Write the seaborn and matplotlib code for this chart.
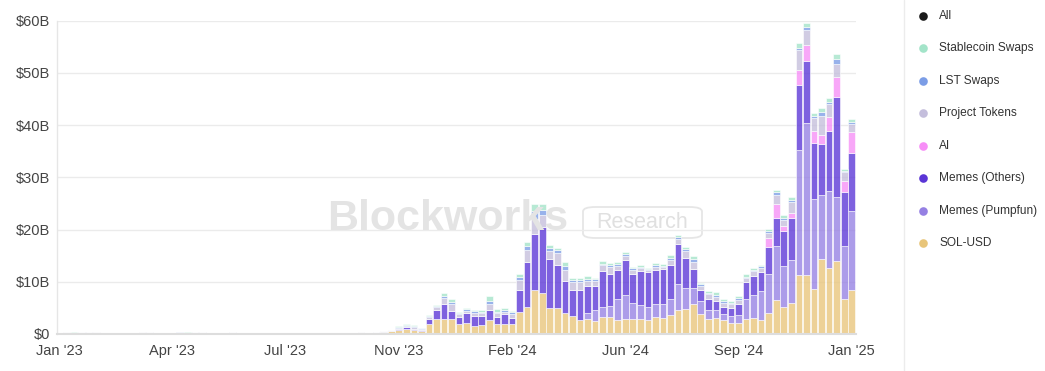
import matplotlib
matplotlib.use("Agg")
import matplotlib.pyplot as plt
import pandas as pd
import seaborn as sns
from matplotlib.lines import Line2D
from matplotlib.patches import FancyBboxPatch

# ---------------- data (weekly, Jan 2023 -> Dec 2024), $B ----------------
weeks = list(range(106))

sol_usd = [
    0, 0, 0, 0, 0, 0, 0, 0, 0, 0,
    0, 0.15, 0, 0, 0, 0, 0, 0, 0, 0,
    0, 0, 0, 0, 0, 0, 0, 0, 0.15, 0,
    0, 0, 0, 0, 0, 0, 0, 0, 0, 0,
    0, 0, 0, 0.3, 0.5, 0.8, 0.95, 0.7, 0.55, 1.9,
    2.8, 2.9, 2.8, 1.9, 2.2, 1.6, 1.7, 2.6, 2.0, 1.9,
    1.9, 4.3, 5.25, 8.45, 7.9, 4.9, 4.9, 4.1, 3.5, 2.7,
    2.9, 2.4, 3.2, 3.3, 2.7, 2.9, 2.9, 2.8, 2.7, 3.3,
    3.1, 3.65, 4.6, 4.8, 5.75, 3.85, 2.8, 3.1, 2.6, 2.2,
    2.2, 2.9, 3.1, 2.7, 4.1, 6.5, 5.25, 6.0, 11.3, 11.3,
    8.6, 14.4, 12.7, 13.9, 6.7, 8.4,
]

memes_pumpfun = [
    0, 0, 0, 0, 0, 0, 0, 0, 0, 0,
    0, 0, 0, 0, 0, 0, 0, 0, 0, 0,
    0, 0, 0, 0, 0, 0, 0, 0, 0, 0,
    0, 0, 0, 0, 0, 0, 0, 0, 0, 0,
    0, 0, 0, 0, 0, 0, 0, 0, 0, 0,
    0, 0, 0, 0, 0, 0, 0, 0, 0, 0,
    0, 0, 0, 0, 0, 0, 0, 0, 0, 0,
    1.2, 2.2, 2.05, 2.05, 4.0, 4.6, 3.1, 2.7, 2.4, 2.4,
    2.6, 3.1, 5.0, 4.1, 3.1, 2.5, 1.8, 1.5, 1.3, 1.25,
    1.5, 3.85, 4.35, 5.6, 7.4, 10.4, 7.8, 8.2, 24.0, 29.2,
    17.3, 12.3, 14.7, 12.3, 10.2, 15.1,
]

memes_others = [
    0, 0.05, 0.2, 0.3, 0.3, 0, 0, 0, 0, 0,
    0, 0, 0.3, 0, 0, 0, 0, 0, 0.3, 0.3,
    0, 0, 0, 0.3, 0, 0, 0, 0, 0, 0,
    0, 0, 0, 0, 0, 0, 0, 0, 0, 0,
    0, 0, 0.3, 0.1, 0.1, 0.2, 0.3, 0.35, 0.25, 0.9,
    1.8, 2.9, 1.7, 1.4, 1.8, 1.9, 1.8, 2.0, 1.35, 1.85,
    1.2, 4.1, 8.6, 10.7, 12.5, 9.5, 8.3, 6.1, 4.9, 5.75,
    5.1, 4.6, 6.85, 6.1, 5.6, 6.7, 5.5, 6.5, 6.7, 6.5,
    6.8, 6.4, 7.7, 5.75, 3.6, 2.0, 2.1, 1.8, 1.35, 1.55,
    2.05, 3.15, 3.65, 3.5, 5.25, 5.4, 6.6, 8.0, 12.35, 11.7,
    10.75, 9.6, 11.4, 19.2, 10.25, 11.1,
]

ai = [
    0, 0, 0, 0, 0, 0, 0, 0, 0, 0,
    0, 0, 0, 0, 0, 0, 0, 0, 0, 0,
    0, 0, 0, 0, 0, 0, 0, 0, 0, 0,
    0, 0, 0, 0, 0, 0, 0, 0, 0, 0,
    0, 0, 0, 0, 0, 0, 0, 0, 0, 0,
    0, 0, 0, 0, 0, 0, 0, 0, 0, 0,
    0, 0, 0, 0, 0, 0, 0, 0, 0, 0,
    0, 0, 0, 0, 0, 0, 0, 0, 0, 0,
    0, 0, 0, 0, 0, 0, 0, 0, 0, 0,
    0, 0, 0, 0, 1.7, 2.55, 0.95, 0.95, 2.9, 3.1,
    2.2, 1.9, 2.7, 3.85, 2.1, 4.1,
]

project_tokens = [
    0, 0.25, 0, 0, 0, 0.3, 0, 0.25, 0.25, 0,
    0.25, 0.15, 0, 0, 0, 0.25, 0.15, 0, 0, 0,
    0, 0, 0, 0, 0, 0, 0.25, 0.15, 0.1, 0,
    0, 0, 0, 0, 0, 0, 0, 0, 0, 0,
    0.3, 0, 0, 0.1, 0.1, 0.2, 0.2, 0.3, 0.2, 0.5,
    0.6, 1.1, 1.2, 0.5, 0.5, 0.6, 0.55, 1.2, 0.6, 0.55,
    0.8, 1.9, 2.3, 2.9, 2.4, 1.5, 2.3, 2.0, 1.5, 1.5,
    1.0, 1.0, 1.1, 1.35, 0.8, 0.65, 0.75, 0.6, 0.4, 0.6,
    0.3, 1.1, 0.95, 1.15, 1.4, 0.9, 0.9, 0.75, 0.75, 0.7,
    0.8, 0.85, 1.0, 0.85, 0.95, 1.8, 1.3, 2.1, 3.8, 2.95,
    2.5, 3.5, 2.6, 2.55, 1.75, 1.6,
]

lst_swaps = [
    0, 0, 0, 0, 0, 0, 0, 0, 0, 0,
    0, 0, 0, 0, 0, 0, 0.15, 0, 0, 0,
    0, 0, 0, 0, 0, 0, 0, 0.1, 0, 0.25,
    0, 0, 0, 0, 0, 0, 0, 0, 0, 0,
    0, 0, 0, 0.1, 0.1, 0.1, 0.35, 0.1, 0.15, 0.2,
    0.2, 0.45, 0.45, 0.2, 0.2, 0.25, 0.2, 0.45, 0.3, 0.25,
    0.25, 0.55, 0.75, 1.45, 0.95, 0.6, 0.6, 0.75, 0.4, 0.45,
    0.4, 0.3, 0.3, 0.4, 0.4, 0.4, 0.3, 0.3, 0.25, 0.4,
    0.25, 0.4, 0.4, 0.5, 0.5, 0.3, 0.25, 0.4, 0.35, 0.3,
    0.3, 0.25, 0.25, 0.3, 0.3, 0.45, 0.4, 0.45, 0.5, 0.5,
    0.4, 0.75, 0.4, 0.95, 0.2, 0.3,
]

stablecoin_swaps = [
    0, 0.1, 0.15, 0, 0, 0, 0, 0, 0, 0,
    0, 0, 0, 0, 0, 0, 0, 0.3, 0, 0,
    0, 0, 0, 0, 0, 0, 0, 0, 0, 0,
    0, 0, 0, 0, 0, 0, 0, 0, 0, 0,
    0, 0, 0, 0, 0, 0.2, 0.1, 0.25, 0.05, 0.15,
    0.15, 0.55, 0.55, 0.25, 0.3, 0.3, 0.3, 0.95, 0.5, 0.5,
    0.25, 0.6, 0.8, 1.45, 1.1, 0.6, 0.4, 0.75, 0.5, 0.35,
    0.45, 0.2, 0.5, 0.4, 0.3, 0.4, 0.3, 0.4, 0.2, 0.45,
    0.3, 0.5, 0.4, 0.45, 0.65, 0.3, 0.45, 0.5, 0.35, 0.3,
    0.4, 0.55, 0.3, 0.25, 0.4, 0.5, 0.4, 0.45, 0.8, 0.9,
    0.65, 0.85, 0.7, 0.95, 0.45, 0.65,
]

series_names = ["Stablecoin Swaps", "LST Swaps", "Project Tokens", "AI",
                "Memes (Others)", "Memes (Pumpfun)", "SOL-USD"]
series_values = [stablecoin_swaps, lst_swaps, project_tokens, ai,
                 memes_others, memes_pumpfun, sol_usd]

x_tick_pos = [0, 15, 30, 45, 60, 75, 90, 105]
x_tick_labels = ["Jan '23", "Apr '23", "Jul '23", "Nov '23",
                 "Feb '24", "Jun '24", "Sep '24", "Jan '25"]
y_ticks = [0, 10, 20, 30, 40, 50, 60]
y_tick_labels = ["$0", "$10B", "$20B", "$30B", "$40B", "$50B", "$60B"]

legend_names = ["All"] + series_names
legend_colors = ["#1a1a1a", "#a3e4c9", "#7b9de6", "#c4bedc", "#f78ef7",
                 "#5a35d6", "#9580e3", "#e8c57a"]
palette = dict(zip(legend_names, legend_colors))

# ---------------- long table for seaborn ----------------
rows = []
for name, vals in zip(series_names, series_values):
    for w, v in zip(weeks, vals):
        rows.append((w, name, v))
df = pd.DataFrame(rows, columns=["week", "series", "value"])

sns.set_theme(style="white")
plt.rcParams["font.family"] = ["Liberation Sans", "DejaVu Sans"]

W, H = 1045, 371
fig = plt.figure(figsize=(W / 100, H / 100), dpi=100)
ax = fig.add_axes([57 / W, 37 / H, (856 - 57) / W, (334 - 20.7) / H])

# watermark (behind bars)
fig.text(448 / W, 1 - 219 / H, "Blockworks", fontsize=31, fontweight="bold",
         color="#e4e4e4", ha="center", va="center", zorder=0)
box = FancyBboxPatch((583 / W, 1 - 238 / H), (702 - 583) / W, (238 - 207) / H,
                     boxstyle="round,pad=0,rounding_size=0.012",
                     transform=fig.transFigure, fill=False,
                     edgecolor="#e6e6e6", linewidth=1.3, zorder=0)
fig.add_artist(box)
fig.text(642 / W, 1 - 222 / H, "Research", fontsize=15.5,
         color="#e0e0e0", ha="center", va="center", zorder=0)
ax.set_facecolor("none")

sns.histplot(data=df, x="week", weights="value", hue="series",
             hue_order=series_names, multiple="stack", discrete=True,
             shrink=0.88, palette={k: palette[k] for k in series_names},
             alpha=0.78, edgecolor="white", linewidth=0.4, legend=False, ax=ax)

ax.set_xlim(-0.26, 105.56)
ax.set_ylim(0, 60)
ax.set_xticks(x_tick_pos)
ax.set_xticklabels(x_tick_labels)
ax.set_yticks(y_ticks)
ax.set_yticklabels(y_tick_labels)
ax.set_xlabel("")
ax.set_ylabel("")
ax.tick_params(axis="both", length=0, labelsize=10.5, labelcolor="#444444")
ax.tick_params(axis="x", pad=7)
ax.tick_params(axis="y", pad=5)
ax.yaxis.grid(True, color="#ebebeb", linewidth=1)
ax.xaxis.grid(False)
ax.set_axisbelow(True)
for s in ["top", "right"]:
    ax.spines[s].set_visible(False)
ax.spines["left"].set_color("#e6e6e6")
ax.spines["left"].set_linewidth(1)
ax.spines["bottom"].set_color("#dddddd")
ax.spines["bottom"].set_linewidth(1.5)

# legend panel
fig.add_artist(Line2D([904 / W, 904 / W], [0, 1], transform=fig.transFigure,
                      color="#ececec", linewidth=1))
legend_y = [16, 48, 81, 113, 146, 178, 211, 243]
for name, col, yy in zip(legend_names, legend_colors, legend_y):
    fy = 1 - yy / H
    fig.add_artist(Line2D([923 / W], [fy], transform=fig.transFigure,
                          marker="o", markersize=6.2, color=col,
                          markeredgewidth=0, linestyle="none"))
    fig.text(939 / W, fy, name, fontsize=8.6, color="#333333",
             ha="left", va="center")

fig.savefig("out.png", dpi=100)
